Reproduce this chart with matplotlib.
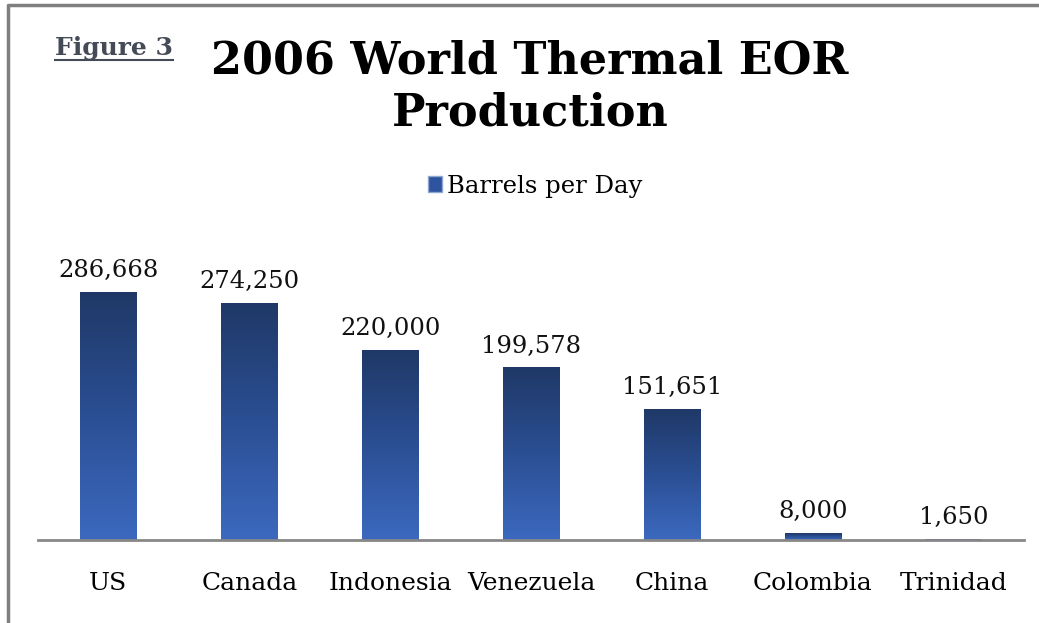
import numpy as np
import matplotlib
matplotlib.use("Agg")
import matplotlib.pyplot as plt
from matplotlib.colors import LinearSegmentedColormap
from matplotlib.lines import Line2D
from matplotlib.patches import Patch

# Datos de produccion termica EOR 2006 (barriles por dia)
paises = ["US", "Canada", "Indonesia", "Venezuela", "China", "Colombia", "Trinidad"]
barriles = [286668, 274250, 220000, 199578, 151651, 8000, 1650]
serie = "Barrels per Day"

plt.rcParams["font.family"] = ["DejaVu Serif"]

fig = plt.figure(figsize=(10.39, 6.23), dpi=100)
ax = fig.add_axes([38/1039, 83/623, 986/1039, 290/623])

x = np.arange(len(paises))
barras = ax.bar(x, barriles, width=0.4, color="#2E54A0", label=serie)

# Degradado vertical en cada barra (oscuro arriba, claro abajo)
cmap = LinearSegmentedColormap.from_list("azul", ["#3C69BF", "#2B4F94", "#1F3866"])
grad = np.linspace(0, 1, 256).reshape(-1, 1)
for b in barras:
    x0, y0 = b.get_x(), b.get_y()
    w, h = b.get_width(), b.get_height()
    im = ax.imshow(grad, extent=[x0, x0 + w, y0, y0 + h], origin="lower",
                   cmap=cmap, aspect="auto", zorder=2)
    im.set_clip_path(b)
    b.set_facecolor("none")
    b.set_edgecolor("none")

for xi, v in zip(x, barriles):
    ax.annotate(f"{v:,}", (xi, v), xytext=(0, 7), textcoords="offset points",
                ha="center", va="bottom", fontsize=17.5, color="#111111")

ax.set_xlim(-0.5, len(paises) - 0.5)
ax.set_ylim(0, 335000)
ax.set_xticks(x)
ax.set_xticklabels(paises, fontsize=18)
ax.tick_params(axis="x", length=0, pad=23)
ax.set_yticks([])
for s in ["top", "left", "right"]:
    ax.spines[s].set_visible(False)
ax.spines["bottom"].set_color("#878787")
ax.spines["bottom"].set_linewidth(2)

# Leyenda
ax.legend(handles=[Patch(facecolor="#2E54A0", edgecolor="#8FA6D0", label=serie)],
          loc="center", bbox_to_anchor=(535/1039, 1 - 186/623),
          bbox_transform=fig.transFigure, frameon=False, fontsize=17.5,
          handlelength=0.6, handleheight=0.6, handletextpad=0.2)

# Titulo
fig.text(530/1039, 1 - 87/623, "2006 World Thermal EOR\nProduction", ha="center",
         va="center", fontsize=32, fontweight="bold", linespacing=1.26)

# Etiqueta "Figure 3" subrayada
t = fig.text(55/1039, 1 - 48/623, "Figure 3", ha="left", va="center",
             fontsize=18, fontweight="bold", color="#454A57")
fig.canvas.draw()
bb = t.get_window_extent().transformed(fig.transFigure.inverted())
fig.add_artist(Line2D([bb.x0, bb.x1], [bb.y0, bb.y0], transform=fig.transFigure,
                      color="#454A57", lw=1.5))

# Marco
fig.add_artist(Line2D([8/1039, 8/1039, 1], [0, 1 - 5/623, 1 - 5/623],
                      transform=fig.transFigure, color="#7F7F7F", lw=2.5))

fig.savefig("out.png", dpi=100)
